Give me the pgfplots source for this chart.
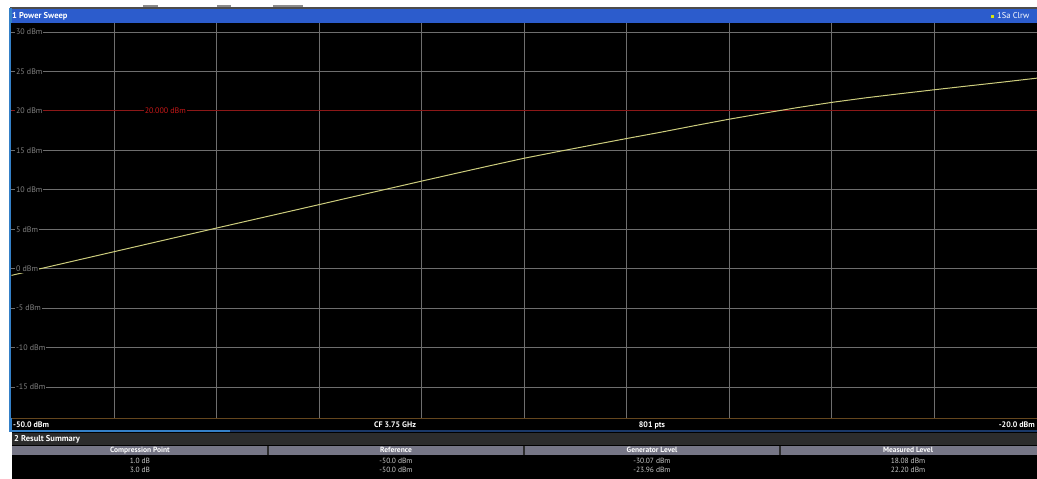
\documentclass[border=0pt]{standalone}
\usepackage{pgfplots}
\pgfplotsset{compat=1.18}
\usepackage{fontspec}
\setmainfont{PT Sans}
\definecolor{barblue}{RGB}{44,92,204}
\definecolor{edgeblue}{RGB}{52,128,200}
\definecolor{darkblue}{RGB}{26,56,104}
\definecolor{gridc}{RGB}{110,110,110}
\definecolor{tracec}{RGB}{205,205,125}
\definecolor{refred}{RGB}{140,24,24}
\definecolor{labred}{RGB}{200,24,24}
\definecolor{labgrey}{RGB}{130,130,130}
\definecolor{botline}{RGB}{100,70,30}
\definecolor{sumbar}{RGB}{44,44,44}
\definecolor{headc}{RGB}{118,118,134}
\definecolor{rowtext}{RGB}{200,200,200}
\begin{document}
\begin{tikzpicture}[x=1pt,y=-1pt]
\useasboundingbox (0,0) rectangle (1037,479);
\fill[white] (0,0) rectangle (1037,479);
% cut-off text fragments at top
\fill[black!45] (143,4.5) rectangle (158,7);
\fill[black!45] (217,4.5) rectangle (231,7);
\fill[black!45] (273,4.5) rectangle (303,7);
% title bar
\fill[black!70] (10,7) rectangle (1037,8.5);
\fill[barblue] (10,8.5) rectangle (1037,23);
\node[anchor=west, text=white, font=\bfseries\fontsize{8.5}{9}\selectfont, inner sep=0pt] at (12,16) {1 Power Sweep};
\fill[yellow!85!green] (990.5,14.5) rectangle (993.5,17.5);
\node[anchor=west, text=white, font=\fontsize{8.5}{9}\selectfont, inner sep=0pt] at (997,16) {1Sa Clrw};
% left border
\fill[edgeblue] (9,8) rectangle (11.5,431);
% plot background + lower strip
\fill[black] (11.5,23) rectangle (1037,431);
\begin{axis}[at={(11.5pt,-418pt)}, anchor=south west, scale only axis,
  width=1025.5pt, height=395pt,
  xmin=-50, xmax=-20, ymin=-18.93, ymax=31.14,
  axis line style={draw=none}, tick style={draw=none},
  xtick={-47,-44,...,-23}, ytick={-15,-10,...,30},
  xticklabels={}, yticklabels={},
  grid=major, grid style={color=gridc, line width=0.8pt},
  axis background/.style={fill=black}, clip=true]
\addplot[refred, line width=0.8pt] coordinates {(-50,20) (-20,20)};
\addplot[tracec, line width=1pt] coordinates {
(-50,-0.85) (-49,0.15) (-48,1.15) (-47,2.15) (-46,3.15) (-45,4.15)
(-44,5.15) (-43,6.14) (-42,7.13) (-41,8.12) (-40,9.12) (-39,10.11)
(-38,11.10) (-37,12.08) (-36,13.05) (-35,14.00) (-34,14.85) (-33,15.68)
(-32,16.50) (-31,17.30) (-30.07,18.08) (-30,18.14) (-29,18.95) (-28,19.70)
(-27,20.42) (-26,21.08) (-25,21.66) (-24,22.18) (-23.96,22.20) (-23,22.68)
(-22,23.17) (-21,23.65) (-20,24.15)};
\node[anchor=center, fill=black, text=labred, font=\fontsize{8}{9}\selectfont, inner sep=1pt] at (axis cs:-45.5,20) {20.000 dBm};
\foreach \v/\t in {30/30 dBm,25/25 dBm,20/20 dBm,15/15 dBm,10/10 dBm,5/5 dBm,0/0 dBm,-5/-5 dBm,-10/-10 dBm,-15/-15 dBm}{
  \edef\temp{\noexpand\node[anchor=west, fill=black, text=labgrey, font=\noexpand\fontsize{8}{9}\noexpand\selectfont, inner sep=1pt] at (axis cs:-49.9,\v) {\t};}
  \temp
}
\end{axis}
% bottom line and strip
\draw[botline, line width=0.8pt] (11.5,418) -- (1037,418);
\node[anchor=west, text=white, font=\bfseries\fontsize{8}{9}\selectfont, inner sep=0pt] at (13,425) {-50.0 dBm};
\node[anchor=center, text=white, font=\bfseries\fontsize{8}{9}\selectfont, inner sep=0pt] at (395,425) {CF 3.75 GHz};
\node[anchor=center, text=white, font=\bfseries\fontsize{8}{9}\selectfont, inner sep=0pt] at (652,425) {801 pts};
\node[anchor=east, text=white, font=\bfseries\fontsize{8}{9}\selectfont, inner sep=0pt] at (1035,425) {-20.0 dBm};
% blue separator
\fill[darkblue] (11.5,430) rectangle (1037,432);
\fill[edgeblue] (9,430) rectangle (230,432);
% result summary
\fill[black] (12,432) rectangle (1037,479);
\fill[sumbar] (12,433) rectangle (1037,445);
\node[anchor=west, text=white, font=\bfseries\fontsize{8.5}{9}\selectfont, inner sep=0pt] at (14,439) {2 Result Summary};
\fill[headc] (12,446) rectangle (1037,454.5);
\foreach \xx in {268,524,780}{\fill[sumbar] (\xx-0.8,446) rectangle (\xx+0.8,454.5);}
\foreach \xx/\t in {140/Compression Point,396/Reference,652/Generator Level,908/Measured Level}{
  \node[anchor=center, text=white, font=\bfseries\fontsize{7.5}{8}\selectfont, inner sep=0pt] at (\xx,450.3) {\t};}
\foreach \xx/\a/\b in {140/1.0 dB/3.0 dB,396/-50.0 dBm/-50.0 dBm,652/-30.07 dBm/-23.96 dBm,908/18.08 dBm/22.20 dBm}{
  \node[anchor=center, text=rowtext, font=\fontsize{7.5}{8}\selectfont, inner sep=0pt] at (\xx,461) {\a};
  \node[anchor=center, text=rowtext, font=\fontsize{7.5}{8}\selectfont, inner sep=0pt] at (\xx,470) {\b};}
\end{tikzpicture}
\end{document}
